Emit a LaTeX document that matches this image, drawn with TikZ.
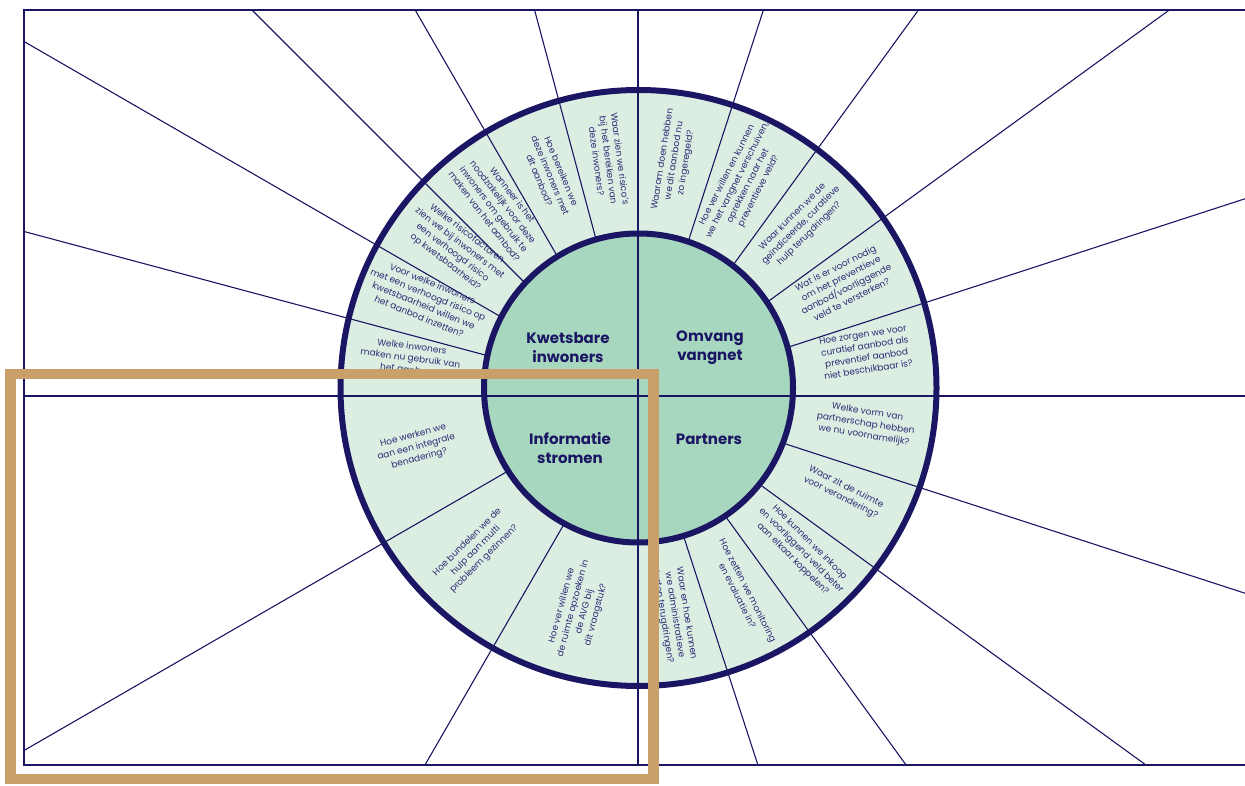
\documentclass[tikz,border=0pt]{standalone}
\usepackage{fontspec}
\setmainfont{Poppins}
\usetikzlibrary{calc}
\definecolor{navy}{RGB}{27,22,99}
\definecolor{mint}{RGB}{220,238,226}
\definecolor{kern}{RGB}{168,215,191}
\definecolor{goud}{RGB}{201,160,106}
\definecolor{tekst}{RGB}{45,44,118}

\begin{document}
\begin{tikzpicture}[x=1pt,y=1pt]
 \tikzstyle{vraag}=[text=tekst, align=center, inner sep=0pt,
                    font=\fontsize{9}{11.8}\selectfont]
 \tikzstyle{kop}=[text=navy, align=center, inner sep=0pt,
                  font=\fontsize{15}{19}\selectfont\bfseries]
 \tikzstyle{straal}=[navy, line width=1.1]
 \tikzstyle{lijn}=[navy, line width=1.8]

 \useasboundingbox (0,0) rectangle (1245,785);

 \coordinate (O) at (638,389);    % kruispunt van de lijnen
 \coordinate (C) at (638.5,397);  % middelpunt cirkels
 \coordinate (LB) at (24,775);
 \coordinate (LO) at (24,20);
 \coordinate (RB) at (1245,775);
 \coordinate (RO) at (1245,20);
 \coordinate (N) at (638,775);
 \coordinate (Z) at (638,20);
 \coordinate (W) at (24,389);
 \coordinate (E) at (1245,389);

 \fill[mint] (C) circle (298);

 \begin{scope}
  \clip (LO) rectangle (RB);
  \foreach \a in {105,120,135,150,165,72,54,36,18,-18,-36,-54,-72,210,240}
   \draw[straal] (O) -- ++(\a:1300);
 \end{scope}

 \fill[kern] (C) circle (154.5);
 \draw[navy, line width=6] (C) circle (298);
 \draw[navy, line width=6] (C) circle (154.5);

 \draw[lijn] (RB) -- (LB) -- (LO) -- (RO);
 \draw[lijn] (N) -- (Z);
 \draw[lijn] (W) -- (E);

 % Kwetsbare inwoners
 \node[kop] (kwets) at ($(O)+(-70,48.5)$) {Kwetsbare\\inwoners};
 \node[vraag, rotate=-82.5] (kw1) at ($(C)+(97.5:230)$) {Waar zien we risico’s\\bij het bereiken van\\deze inwoners?};
 \node[vraag, rotate=-67.5] (kw2) at ($(C)+(112.5:230)$) {Hoe bereiken we\\deze inwoners met\\dit aanbod?};
 \node[vraag, rotate=-52.5] (kw3) at ($(C)+(127.5:230)$) {Wanneer is het\\noodzakelijk voor deze\\inwoners om gebruik te\\maken van het aanbod?};
 \node[vraag, rotate=-37.5] (kw4) at ($(C)+(142.5:230)$) {Welke risicofactoren\\zien we bij inwoners met\\een verhoogd risico\\op kwetsbaarheid?};
 \node[vraag, rotate=-22.5] (kw5) at ($(C)+(157.5:230)$) {Voor welke inwoners\\met een verhoogd risico op\\kwetsbaarheid willen we\\het aanbod inzetten?};
 \node[vraag, rotate=-7.5] (kw6) at ($(C)+(172.5:230)$) {Welke inwoners\\maken nu gebruik van\\het aanbod?};

 % Omvang vangnet
 \node[kop] (omvang) at ($(O)+(72,48.5)$) {Omvang\\vangnet};
 \node[vraag, rotate=81] (om1) at ($(C)+(81:230)$) {Waarom doen hebben\\we dit aanbod nu\\zo ingeregeld?};
 \node[vraag, rotate=63] (om2) at ($(C)+(63:230)$) {Hoe ver willen en kunnen\\we het vangnet verschuiven,\\oprekken naar het\\preventieve veld?};
 \node[vraag, rotate=45] (om3) at ($(C)+(45:230)$) {Waar kunnen we de\\geïndiceerde, curatieve\\hulp terugdringen?};
 \node[vraag, rotate=27] (om4) at ($(C)+(27:230)$) {Wat is er voor nodig\\om het preventieve\\aanbod/voorliggende\\veld te versterken?};
 \node[vraag, rotate=9] (om5) at ($(C)+(9:230)$) {Hoe zorgen we voor\\curatief aanbod als\\preventief aanbod\\niet beschikbaar is?};

 % Partners
 \node[kop] (partners) at ($(O)+(71,-43)$) {Partners};
 \node[vraag, rotate=-9] (pa1) at ($(C)+(-9:230)$) {Welke vorm van\\partnerschap hebben\\we nu voornamelijk?};
 \node[vraag, rotate=-27] (pa2) at ($(C)+(-27:230)$) {Waar zit de ruimte\\voor verandering?};
 \node[vraag, rotate=-45] (pa3) at ($(C)+(-45:230)$) {Hoe kunnen we inkoop\\en voorliggend veld beter\\aan elkaar koppelen?};
 \node[vraag, rotate=-63] (pa4) at ($(C)+(-63:230)$) {Hoe zetten we monitoring\\en evaluatie in?};
 \node[vraag, rotate=-81] (pa5) at ($(C)+(-81:230)$) {Waar en hoe kunnen\\we administratieve\\lasten terugdringen?};

 % Informatie stromen
 \node[kop] (info) at ($(O)+(-68,-52)$) {Informatie\\stromen};
 \node[vraag, rotate=15] (in1) at ($(C)+(195:230)$) {Hoe werken we\\aan een integrale\\benadering?};
 \node[vraag, rotate=45] (in2) at ($(C)+(225:230)$) {Hoe bundelen we de\\hulp aan multi\\probleem gezinnen?};
 \node[vraag, rotate=75] (in3) at ($(C)+(255:230)$) {Hoe ver willen we\\de ruimte opzoeken in\\de AVG bij\\dit vraagstuk?};

 \draw[goud, line width=10.5] (10.5,6) rectangle (653.5,411);

\end{tikzpicture}
\end{document}
